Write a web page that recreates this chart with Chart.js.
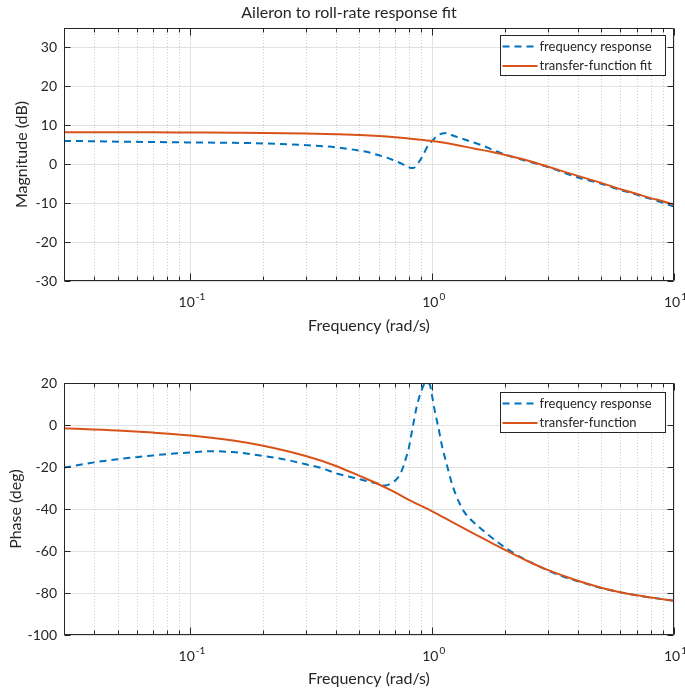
<!DOCTYPE html>
<html>
<head>
<meta charset="utf-8">
<title>Aileron to roll-rate response fit</title>
<script src="https://cdn.jsdelivr.net/npm/chart.js@4/dist/chart.umd.min.js"></script>
<style>
  html, body { margin: 0; padding: 0; background: #ffffff; }
  #wrap { position: relative; width: 685px; height: 689px; overflow: hidden; }
  canvas { position: absolute; left: 0; display: block; }
  #mag { top: 0; }
  #phase { top: 340px; }
</style>
</head>
<body>
<div id="wrap">
  <canvas id="mag" width="685" height="340"></canvas>
  <canvas id="phase" width="685" height="349"></canvas>
</div>
<script>
// Measured frequency response, magnitude (rad/s, dB)
const magRespFreq = [0.03, 0.04, 0.05, 0.07, 0.1, 0.15, 0.2, 0.3, 0.4, 0.5,
  0.55, 0.6, 0.65, 0.7, 0.75, 0.8, 0.83, 0.86, 0.9, 0.93,
  0.96, 1.0, 1.05, 1.1, 1.15, 1.2, 1.3, 1.4, 1.6, 1.8,
  2.0, 2.5, 3.0, 4.0, 5.0, 6.0, 7.0, 8.0, 9.0, 10];
const magRespDb = [6.0, 5.9, 5.8, 5.7, 5.6, 5.5, 5.35, 4.9, 4.35, 3.5,
  3.0, 2.3, 1.7, 0.9, 0.1, -0.8, -1.0, -0.4, 1.5, 3.1,
  4.8, 6.0, 7.3, 7.9, 8.0, 7.5, 6.8, 6.1, 4.9, 3.6,
  2.5, 0.7, -0.7, -3.4, -5.0, -6.6, -7.8, -8.9, -9.9, -10.9];

// Measured frequency response, phase (rad/s, deg)
const phaseRespFreq = [0.03, 0.04, 0.05, 0.06, 0.07, 0.08, 0.1, 0.12, 0.15, 0.2,
  0.25, 0.3, 0.35, 0.4, 0.45, 0.5, 0.55, 0.6, 0.64, 0.68,
  0.72, 0.75, 0.78, 0.8, 0.82, 0.84, 0.86, 0.88, 0.9, 0.92,
  0.94, 0.96, 0.98, 1.0, 1.03, 1.06, 1.1, 1.15, 1.2, 1.25,
  1.3, 1.35, 1.4, 1.5, 1.6, 1.7, 2.0, 2.3, 2.6, 3.0,
  3.5, 4.0, 5.0, 6.0, 7.0, 8.0, 10];
const phaseRespDeg = [-20.3, -17.8, -16.3, -15.3, -14.5, -13.9, -13.1, -12.5, -12.9, -14.7,
  -16.6, -18.7, -20.6, -23.0, -24.5, -25.8, -27.0, -28.0, -28.8, -27.6,
  -25.2, -21.5, -15.5, -11.0, -4.5, 2.0, 8.0, 12.5, 16.0, 18.8,
  20.3, 20.0, 18.9, 13.5, 5.5, -1.0, -10.5, -19.0, -27.0, -33.0,
  -37.5, -41.0, -43.5, -46.8, -49.6, -52.2, -58.3, -62.7, -65.8, -69.2,
  -72.3, -74.4, -77.6, -79.7, -81.1, -82.1, -83.7];

// Fitted transfer function (rad/s, dB, deg)
const fitFreq = [0.03, 0.05, 0.07, 0.1, 0.15, 0.2, 0.3, 0.4, 0.5, 0.6,
  0.7, 0.8, 0.9, 1.0, 1.2, 1.5, 1.75, 2.0, 2.5, 3.0,
  4.0, 5.0, 6.0, 7.0, 8.0, 9.0, 10];
const fitMagDb = [8.2, 8.2, 8.2, 8.15, 8.1, 8.05, 7.9, 7.7, 7.5, 7.25,
  6.95, 6.6, 6.3, 5.95, 5.2, 4.0, 3.2, 2.4, 0.9, -0.6,
  -3.0, -4.8, -6.4, -7.6, -8.7, -9.5, -10.4];
const fitPhaseDeg = [-1.6, -2.6, -3.6, -5.0, -7.4, -9.9, -14.8, -19.5, -24.2, -28.2,
  -32.0, -35.7, -38.5, -41.1, -46.0, -52.0, -56.0, -59.5, -65.0, -69.0,
  -74.2, -77.5, -79.6, -81.1, -82.1, -83.0, -83.7];

// Axis limits and decade tick labels
const freqMin = 0.03, freqMax = 10;
const decadeTicks = [0.1, 1, 10];
const decadeExponents = ['-1', '0', '1'];

const FONT = 'Lato, "Open Sans", "Liberation Sans", sans-serif';
const TEXT = '#262626';
const BLUE = '#0072BD';
const RED = '#D95319';
const DASH = [7, 5];

const pts = (xs, ys) => xs.map((x, i) => ({ x, y: ys[i] }));

// Grid, box, inward ticks, decade labels, legend and title
const axesDecor = {
  id: 'axesDecor',
  beforeDatasetsDraw(chart) {
    const { ctx, chartArea: a, scales: { x, y } } = chart;
    ctx.save();
    ctx.lineWidth = 1;
    // horizontal major grid
    ctx.strokeStyle = '#e2e2e2';
    y.ticks.forEach(t => {
      const py = Math.round(y.getPixelForValue(t.value)) + 0.5;
      ctx.beginPath(); ctx.moveTo(a.left, py); ctx.lineTo(a.right, py); ctx.stroke();
    });
    // vertical minor grid (dotted)
    ctx.strokeStyle = '#cdcdcd';
    ctx.setLineDash([1, 2]);
    minorFreqs().forEach(v => {
      const px = Math.round(x.getPixelForValue(v)) + 0.5;
      ctx.beginPath(); ctx.moveTo(px, a.top); ctx.lineTo(px, a.bottom); ctx.stroke();
    });
    // vertical decade grid
    ctx.setLineDash([]);
    ctx.strokeStyle = '#e2e2e2';
    decadeTicks.forEach(v => {
      const px = Math.round(x.getPixelForValue(v)) + 0.5;
      ctx.beginPath(); ctx.moveTo(px, a.top); ctx.lineTo(px, a.bottom); ctx.stroke();
    });
    ctx.restore();
  },
  afterDatasetsDraw(chart, args, opts) {
    const { ctx, chartArea: a, scales: { x, y } } = chart;
    ctx.save();
    ctx.strokeStyle = TEXT;
    ctx.lineWidth = 1;
    const L = a.left + 0.5, R = a.right - 0.5, T = a.top + 0.5, B = a.bottom - 0.5;
    ctx.beginPath();
    ctx.rect(L, T, R - L, B - T);
    ctx.stroke();
    // inward ticks
    ctx.beginPath();
    y.ticks.forEach(t => {
      const py = Math.round(y.getPixelForValue(t.value)) + 0.5;
      ctx.moveTo(L, py); ctx.lineTo(L + 6, py);
      ctx.moveTo(R, py); ctx.lineTo(R - 6, py);
    });
    minorFreqs().forEach(v => {
      const px = Math.round(x.getPixelForValue(v)) + 0.5;
      ctx.moveTo(px, B); ctx.lineTo(px, B - 4);
      ctx.moveTo(px, T); ctx.lineTo(px, T + 4);
    });
    decadeTicks.forEach(v => {
      const px = Math.round(x.getPixelForValue(v)) + 0.5;
      ctx.moveTo(px, B); ctx.lineTo(px, B - 7);
      ctx.moveTo(px, T); ctx.lineTo(px, T + 7);
    });
    ctx.stroke();

    // decade labels 10^n
    ctx.fillStyle = TEXT;
    ctx.textBaseline = 'alphabetic';
    ctx.textAlign = 'left';
    decadeTicks.forEach((v, i) => {
      const px = x.getPixelForValue(v);
      ctx.font = '14px ' + FONT;
      const wBase = ctx.measureText('10').width;
      ctx.font = '10px ' + FONT;
      const wExp = ctx.measureText(decadeExponents[i]).width;
      const x0 = px - (wBase + wExp) / 2 + 1;
      const base = a.bottom + 26;
      ctx.font = '14px ' + FONT;
      ctx.fillText('10', x0, base);
      ctx.font = '10px ' + FONT;
      ctx.fillText(decadeExponents[i], x0 + wBase + 1, base - 7);
    });

    // legend box in the upper right corner
    const ds = chart.data.datasets.slice().sort((p, q) => p.legendIndex - q.legendIndex);
    ctx.font = '13px ' + FONT;
    const textW = Math.max(...ds.map(d => ctx.measureText(d.label).width));
    const bw = Math.round(39 + textW + 14), bh = 40;
    const bx = Math.round(a.right - 9 - bw) + 0.5, by = Math.round(a.top + opts.legendTop) + 0.5;
    ctx.fillStyle = '#ffffff';
    ctx.fillRect(bx, by, bw, bh);
    ctx.strokeStyle = TEXT;
    ctx.lineWidth = 1;
    ctx.strokeRect(bx, by, bw, bh);
    ds.forEach((d, i) => {
      const ry = by + 11 + i * 19.5;
      ctx.strokeStyle = d.borderColor;
      ctx.lineWidth = 2;
      ctx.setLineDash(d.borderDash || []);
      ctx.beginPath(); ctx.moveTo(bx + 2, ry); ctx.lineTo(bx + 37, ry); ctx.stroke();
      ctx.setLineDash([]);
      ctx.fillStyle = TEXT;
      ctx.textBaseline = 'middle';
      ctx.fillText(d.label, bx + 39, ry);
    });

    if (opts.title) {
      ctx.font = '16px ' + FONT;
      ctx.fillStyle = TEXT;
      ctx.textAlign = 'center';
      ctx.textBaseline = 'middle';
      ctx.fillText(opts.title, 349, 13);
    }
    ctx.restore();
  }
};

function minorFreqs() {
  const out = [];
  [0.01, 0.1, 1].forEach(d => {
    for (let m = 2; m <= 9; m++) {
      const v = d * m;
      if (v >= freqMin && v <= freqMax) out.push(v);
    }
  });
  return out;
}

function makeChart(id, cfg) {
  return new Chart(document.getElementById(id), {
    type: 'line',
    data: {
      datasets: [
        {
          label: cfg.fitLabel, legendIndex: 1, order: 0,
          data: pts(fitFreq, cfg.fit),
          borderColor: RED, borderWidth: 2, cubicInterpolationMode: 'monotone'
        },
        {
          label: 'frequency response', legendIndex: 0, order: 1,
          data: pts(cfg.respFreq, cfg.resp),
          borderColor: BLUE, borderWidth: 2, borderDash: DASH, cubicInterpolationMode: 'monotone'
        }
      ]
    },
    options: {
      responsive: false,
      animation: false,
      layout: { padding: { top: cfg.padTop, right: 11, left: 0, bottom: 0 } },
      elements: { point: { radius: 0 }, line: { borderCapStyle: 'butt' } },
      plugins: {
        legend: { display: false },
        tooltip: { enabled: false },
        axesDecor: { title: cfg.title, legendTop: cfg.legendTop }
      },
      scales: {
        x: {
          type: 'logarithmic', min: freqMin, max: freqMax,
          grid: { display: false, drawTicks: false },
          border: { display: false },
          ticks: { display: false },
          title: {
            display: true, text: 'Frequency (rad/s)', color: TEXT,
            font: { family: FONT, size: 16 }, padding: { top: 0, bottom: cfg.xTitlePad }
          },
          afterFit: s => { s.height = cfg.xHeight; }
        },
        y: {
          min: cfg.yMin, max: cfg.yMax,
          grid: { display: false, drawTicks: false },
          border: { display: false },
          ticks: {
            stepSize: cfg.yStep, includeBounds: false, padding: 7, color: TEXT,
            font: { family: FONT, size: 14 }
          },
          title: {
            display: true, text: cfg.yTitle, color: TEXT,
            font: { family: FONT, size: 16 }, padding: { top: cfg.yTitlePad, bottom: 0 }
          },
          afterFit: s => { s.width = 64; }
        }
      }
    },
    plugins: [axesDecor]
  });
}

makeChart('mag', {
  title: 'Aileron to roll-rate response fit',
  fitLabel: 'transfer-function fit',
  respFreq: magRespFreq, resp: magRespDb, fit: fitMagDb,
  yMin: -30, yMax: 35, yStep: 10, yTitle: 'Magnitude (dB)', yTitlePad: 12,
  padTop: 28, xHeight: 59, xTitlePad: 5, legendTop: 7
});

makeChart('phase', {
  title: null,
  fitLabel: 'transfer-function',
  respFreq: phaseRespFreq, resp: phaseRespDeg, fit: fitPhaseDeg,
  yMin: -100, yMax: 20, yStep: 20, yTitle: 'Phase (deg)', yTitlePad: 6,
  padTop: 43, xHeight: 54, xTitlePad: 1, legendTop: 9
});
</script>
</body>
</html>
